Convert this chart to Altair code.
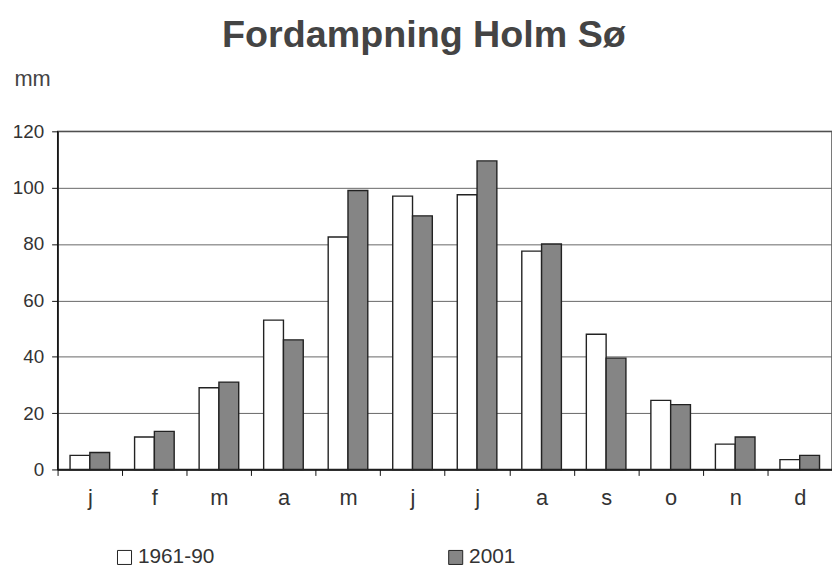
import altair as alt
import pandas as pd

months = ["j", "f", "m", "a", "m", "j", "j", "a", "s", "o", "n", "d"]
normal_1961_90 = [5, 11.5, 29, 53, 82.5, 97, 97.5, 77.5, 48, 24.5, 9, 3.5]
year_2001 = [6, 13.5, 31, 46, 99, 90, 109.5, 80, 39.5, 23, 11.5, 5]
series = ["1961-90", "2001"]
y_ticks = [0, 20, 40, 60, 80, 100, 120]

rows = []
for i, m in enumerate(months):
    rows.append({"idx": i, "month": m, "series": series[0], "value": normal_1961_90[i]})
    rows.append({"idx": i, "month": m, "series": series[1], "value": year_2001[i]})
df = pd.DataFrame(rows)

label_expr = "[" + ",".join("'%s'" % m for m in months) + "][datum.value]"
FONT = "Liberation Sans"

chart = alt.Chart(df).mark_bar(stroke="#222222", strokeWidth=1.4).encode(
    x=alt.X(
        "idx:O",
        scale=alt.Scale(paddingInner=0, paddingOuter=0),
        axis=alt.Axis(
            title=None, labelExpr=label_expr, labelAngle=0, tickBand="extent",
            grid=False, domainColor="#111111", domainWidth=1.4,
            tickColor="#111111", tickSize=6, labelFontSize=22, labelFont=FONT,
            labelColor="#333333", labelPadding=12,
        ),
    ),
    xOffset=alt.XOffset("series:N", sort=series,
                        scale=alt.Scale(paddingInner=0, paddingOuter=0.63)),
    y=alt.Y(
        "value:Q",
        scale=alt.Scale(domain=[0, 120], nice=False),
        axis=alt.Axis(
            values=y_ticks, title="mm", titleAngle=0, titleAlign="left",
            titleBaseline="alphabetic", titleX=-44, titleY=-46, titleFontSize=22,
            titleFontWeight="normal", titleFont=FONT, titleColor="#444444",
            grid=True, gridColor="#666666", gridWidth=1,
            domainColor="#111111", domainWidth=1.4, tickColor="#111111",
            tickSize=6, labelFontSize=19, labelFont=FONT, labelColor="#333333",
            labelPadding=8,
        ),
    ),
    color=alt.Color(
        "series:N",
        scale=alt.Scale(domain=series, range=["#ffffff", "#858585"]),
        legend=alt.Legend(
            title=None, orient="none", legendX=57, legendY=419,
            direction="horizontal", symbolType="square", symbolSize=200,
            symbolStrokeColor="#222222", symbolStrokeWidth=1,
            labelFontSize=21, labelFont=FONT, labelColor="#333333",
            columnPadding=232, labelOffset=3,
        ),
    ),
).properties(
    width=781,
    height=341,
    title=alt.TitleParams(
        "Fordampning Holm Sø", fontSize=38, font=FONT, fontWeight="bold",
        color="#444444", anchor="middle", frame="group", dx=-21, offset=13,
    ),
    autosize=alt.AutoSizeParams(type="none"),
    padding={"left": 50, "top": 122, "right": 0, "bottom": 95},
).configure_view(
    stroke="#222222", strokeWidth=1.4
)

chart.save("out.html", embed_options={"renderer": "svg", "actions": False})
